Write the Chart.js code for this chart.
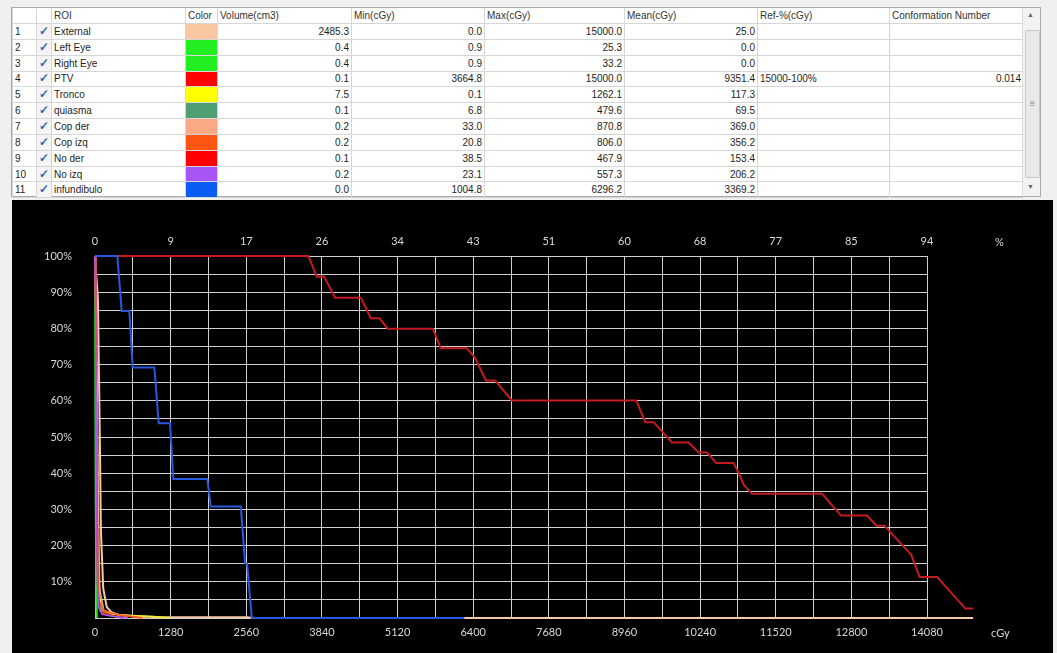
<!DOCTYPE html>
<html>
<head>
<meta charset="utf-8">
<script src="https://cdn.jsdelivr.net/npm/chart.js@4.4.0/dist/chart.umd.min.js"></script>
<style>
body { margin: 0; width: 1057px; height: 653px; background: #f0f0f0; position: relative; overflow: hidden; font-family: "Liberation Sans", Arial, sans-serif; }
#frame { position: absolute; left: 11px; top: 7px; width: 1030px; height: 190px; background: #fff; border: 1px solid #a9a9a9; box-sizing: border-box; }
#grid { position: absolute; left: 12px; top: 8px; border-collapse: collapse; table-layout: fixed; width: 1010px; font-size: 10px; color: #1e1e1e; }
#grid td, #grid th { border: 1px solid #d6d6d6; padding: 0 2px; overflow: hidden; white-space: nowrap; font-weight: normal; text-align: left; line-height: 13px; }
#grid tr { height: 15.85px; }
#grid tr.head { height: 15.5px; }
#grid th { border-top: none; color: #333; }
#grid td.r { text-align: right; }
#grid td.chk { color: #3565b8; font-size: 12px; font-weight: bold; text-align: center; padding: 0; background: #f4f4f4; }
#scroll { position: absolute; left: 1022px; top: 8px; width: 18px; height: 188px; background: #f2f2f2; border-left: 1px solid #dcdcdc; box-sizing: border-box; }
#thumb { position: absolute; left: 2px; top: 22px; width: 13px; height: 146px; background: #e9e9e9; border: 1px solid #c9c9c9; border-radius: 2px; color: #999; font-size: 10px; text-align: center; line-height: 146px; }
.arr { position: absolute; left: 4px; font-size: 7px; color: #666; }
#panel { position: absolute; left: 12px; top: 200px; width: 1041px; height: 453px; background: #000; }
.unit { position: absolute; color: #d8d8d8; font: 11px Lato, sans-serif; }
</style>
</head>
<body>
<div id="frame"></div>
<table id="grid"></table>
<div id="scroll"><span class="arr" style="top:3px">▲</span><div id="thumb">≡</div><span class="arr" style="top:175px">▼</span></div>
<div id="panel"><canvas id="dvh" width="1041" height="453"></canvas></div>
<span class="unit" style="left:995px; top:235px">%</span>
<span class="unit" style="left:991px; top:626px">cGy</span>
<script>
// table data
var roiNames = ['External', 'Left Eye', 'Right Eye', 'PTV', 'Tronco', 'quiasma', 'Cop der', 'Cop izq', 'No der', 'No izq', 'infundibulo'];
var roiColors = ['#f9c8a2', '#22ee22', '#22ee22', '#ff0000', '#ffff00', '#4e9e72', '#f9aa84', '#ff5512', '#ff0000', '#a855f7', '#0a5cf5'];
var volumeCm3 = ['2485.3', '0.4', '0.4', '0.1', '7.5', '0.1', '0.2', '0.2', '0.1', '0.2', '0.0'];
var minCGy = ['0.0', '0.9', '0.9', '3664.8', '0.1', '6.8', '33.0', '20.8', '38.5', '23.1', '1004.8'];
var maxCGy = ['15000.0', '25.3', '33.2', '15000.0', '1262.1', '479.6', '870.8', '806.0', '467.9', '557.3', '6296.2'];
var meanCGy = ['25.0', '0.0', '0.0', '9351.4', '117.3', '69.5', '369.0', '356.2', '153.4', '206.2', '3369.2'];
var refPct = ['', '', '', '15000-100%', '', '', '', '', '', '', ''];
var conformation = ['', '', '', '0.014', '', '', '', '', '', '', ''];

// DVH curves: dose (cGy) and volume (%)
var extDose = [0, 20, 50, 65, 80, 100, 140, 200, 280, 400, 680, 1000, 2560, 2700, 14860];
var extVol = [100, 95, 88, 70, 52, 24, 8, 3, 1.6, 0.8, 0.5, 0.3, 0.2, 0, 0];
var leyeDose = [0, 5, 12, 20, 25.3];
var leyeVol = [100, 70, 30, 5, 0];
var reyeDose = [0, 8, 16, 26, 33.2];
var reyeVol = [100, 70, 30, 6, 0];
var ptvDose = [0, 3611, 3754, 3877, 4063, 4499, 4668, 4814, 4956, 5718, 5853, 6293, 6434, 6615, 6772, 7055, 9160, 9312, 9453, 9764, 10045, 10214, 10357, 10514, 10807, 10920, 10977, 11118, 12304, 12625, 13066, 13223, 13359, 13658, 13811, 13956, 14251, 14730, 14860];
var ptvVol = [100, 100, 94.3, 94.3, 88.5, 88.5, 82.8, 82.8, 79.9, 79.9, 74.5, 74.5, 71.8, 65.6, 65.6, 60.1, 60.1, 54.1, 54.1, 48.5, 48.5, 45.7, 45.7, 42.8, 42.8, 39.1, 36.8, 34.3, 34.3, 28.3, 28.3, 25.5, 25.5, 20.2, 17.5, 11.3, 11.3, 2.6, 2.6];
var troncoDose = [0, 20, 40, 60, 80, 120, 300, 700, 1000, 1262];
var troncoVol = [100, 80, 50, 20, 6, 2, 1, 0.6, 0.4, 0];
var quiasmaDose = [0, 10, 25, 40, 55, 70, 120, 250, 479.6];
var quiasmaVol = [100, 90, 65, 35, 12, 4, 1.5, 0.6, 0];
var copDerDose = [0, 20, 40, 60, 80, 150, 450, 870.8];
var copDerVol = [100, 85, 55, 25, 8, 2, 0.8, 0];
var copIzqDose = [0, 15, 30, 45, 60, 150, 400, 806];
var copIzqVol = [100, 80, 45, 15, 5, 2, 0.8, 0];
var noDerDose = [0, 12, 25, 35, 45, 80, 200, 467.9];
var noDerVol = [100, 85, 55, 25, 8, 2, 1, 0];
var noIzqDose = [0, 10, 20, 30, 40, 60, 120, 300, 557.3];
var noIzqVol = [100, 88, 60, 30, 10, 3, 1, 0.5, 0];
var infDose = [0, 378, 452, 581, 638, 1004, 1078, 1270, 1326, 1901, 1959, 2467, 2540, 2575, 2653, 6250];
var infVol = [100, 100, 84.8, 84.8, 69.2, 69.2, 53.8, 53.8, 38.4, 38.4, 30.8, 30.8, 15.2, 14.8, 0, 0];

// axis labels
var doseTicks = [0, 1280, 2560, 3840, 5120, 6400, 7680, 8960, 10240, 11520, 12800, 14080];
var refPctTicks = ['0', '9', '17', '26', '34', '43', '51', '60', '68', '77', '85', '94'];
var volTicks = [10, 20, 30, 40, 50, 60, 70, 80, 90, 100];
var volTickLabels = ['10%', '20%', '30%', '40%', '50%', '60%', '70%', '80%', '90%', '100%'];

var curveColors = ['#f5c9a8', '#2ad92a', '#2ad92a', '#c41a20', '#f2f020', '#4e9e72', '#f4a988', '#ff5512', '#e0202a', '#a855f7', '#2a58dc'];

// build table
var grid = document.getElementById('grid');
var widths = [24, 15, 134, 32, 134, 133, 140, 133, 132, 134];
var heads = ['', '', 'ROI', 'Color', 'Volume(cm3)', 'Min(cGy)', 'Max(cGy)', 'Mean(cGy)', 'Ref-%(cGy)', 'Conformation Number'];
var html = '<colgroup>';
widths.forEach(function(w) { html += '<col style="width:' + w + 'px">'; });
html += '</colgroup><tr class="head">';
heads.forEach(function(h) { html += '<th>' + h + '</th>'; });
html += '</tr>';
for (var i = 0; i < roiNames.length; i++) {
    html += '<tr><td>' + (i + 1) + '</td><td class="chk">✓</td><td>' + roiNames[i] + '</td>' +
        '<td style="background:' + roiColors[i] + '"></td>' +
        '<td class="r">' + volumeCm3[i] + '</td><td class="r">' + minCGy[i] + '</td>' +
        '<td class="r">' + maxCGy[i] + '</td><td class="r">' + meanCGy[i] + '</td>' +
        '<td>' + refPct[i] + '</td><td class="r">' + conformation[i] + '</td></tr>';
}
grid.innerHTML = html;

function pts(dose, vol) {
    return dose.map(function(d, k) { return {x: d, y: vol[k]}; });
}
var curves = [
    pts(extDose, extVol), pts(leyeDose, leyeVol), pts(reyeDose, reyeVol), pts(ptvDose, ptvVol),
    pts(troncoDose, troncoVol), pts(quiasmaDose, quiasmaVol), pts(copDerDose, copDerVol),
    pts(copIzqDose, copIzqVol), pts(noDerDose, noDerVol), pts(noIzqDose, noIzqVol), pts(infDose, infVol)
];

var datasets = curves.map(function(c, k) {
    return {
        label: roiNames[k],
        data: c,
        borderColor: curveColors[k],
        borderWidth: (k === 3 || k === 10 || k === 0) ? 2 : 1.5,
        pointRadius: 0,
        tension: 0,
        fill: false,
        clip: false,
        order: 11 - k
    };
});

var tickFont = {family: 'Lato', size: 11};
var ctx = document.getElementById('dvh').getContext('2d');
var dvhChart = new Chart(ctx, {
    type: 'line',
    data: {datasets: datasets},
    options: {
        responsive: false,
        animation: false,
        layout: {padding: {left: 0, right: 126, top: 0, bottom: 0}},
        plugins: {legend: {display: false}, tooltip: {enabled: false}},
        scales: {
            x: {
                type: 'linear', position: 'bottom', min: 0,
                // grid stops at 14080, curves run on past it
                afterDataLimits: function(s) { s.max = 14080; },
                afterFit: function(s) { s.height = 35; },
                grid: {color: '#cfcfcf', lineWidth: 1, drawTicks: false},
                border: {display: false},
                ticks: {
                    stepSize: 640, autoSkip: false, maxRotation: 0, padding: 8,
                    color: '#d8d8d8', font: tickFont,
                    callback: function(v) { var i = doseTicks.indexOf(v); return i >= 0 ? String(doseTicks[i]) : ''; }
                }
            },
            x2: {
                type: 'linear', position: 'top', min: 0, max: 14080,
                afterFit: function(s) { s.height = 56; },
                grid: {display: false, drawTicks: false},
                border: {display: false},
                ticks: {
                    stepSize: 640, autoSkip: false, maxRotation: 0, padding: 8,
                    color: '#d8d8d8', font: tickFont,
                    callback: function(v) { var i = doseTicks.indexOf(v); return i >= 0 ? refPctTicks[i] : ''; }
                }
            },
            y: {
                min: 0, max: 100,
                afterFit: function(s) { s.width = 83; },
                grid: {color: '#cfcfcf', lineWidth: 1, drawTicks: false},
                border: {display: false},
                ticks: {
                    stepSize: 5, autoSkip: false, padding: 23,
                    color: '#d8d8d8', font: tickFont,
                    callback: function(v) { var i = volTicks.indexOf(v); return i >= 0 ? volTickLabels[i] : ''; }
                }
            }
        }
    }
});
</script>
</body>
</html>
